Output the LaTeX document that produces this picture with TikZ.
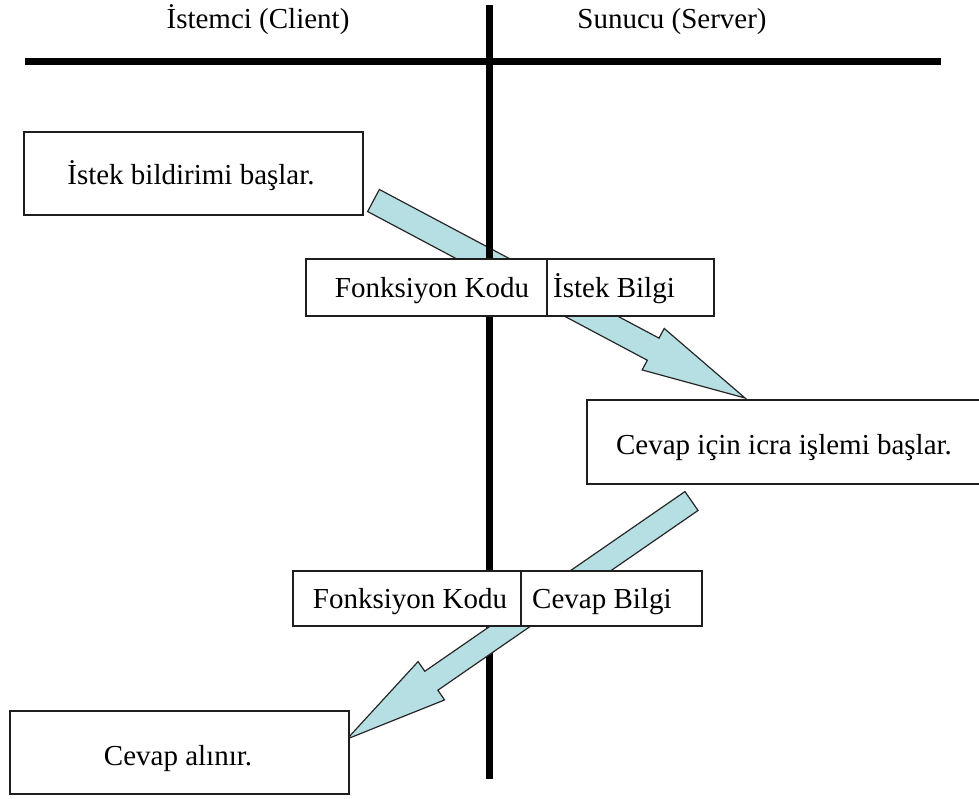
\documentclass[tikz,border=0pt]{standalone}
\usepackage{fontspec}
\setmainfont{Liberation Serif}
\usetikzlibrary{calc}

\definecolor{arrowfill}{HTML}{B6DFE3}
\definecolor{boxline}{HTML}{1E1E1E}

\tikzset{
  axisline/.style={line width=7pt, black},
  stepbox/.style={draw=boxline, line width=1.5pt, fill=white, rectangle, inner sep=0pt},
  lbl/.style={font=\fontsize{29}{34}\selectfont, inner sep=0pt, anchor=base},
  blockarrow/.style={fill=arrowfill, draw=black!85, line width=1.2pt, line join=miter},
}

% thick block arrow from #1 to #2: shaft half width #3, head half width #4, head length #5
\newcommand\blockarrowpath[5]{%
  \coordinate (#1-#2-h) at ($(#2)!#5!(#1)$);
  \filldraw[blockarrow]
    ($(#1)!#3!90:(#2)$) -- ($(#1-#2-h)!#3!-90:(#1)$) -- ($(#1-#2-h)!#4!-90:(#1)$)
    -- (#2) -- ($(#1-#2-h)!#4!90:(#1)$) -- ($(#1-#2-h)!#3!90:(#1)$)
    -- ($(#1)!#3!-90:(#2)$) -- cycle;}

\begin{document}
\begin{tikzpicture}[x=1pt, y=-1pt]
  \useasboundingbox (0,0) rectangle (979,798);
  \clip (0,0) rectangle (979,798);

  % column headings
  \node[lbl] (hclient) at (258,28) {İstemci (Client)};
  \node[lbl] (hserver) at (672,28) {Sunucu (Server)};

  % horizontal divider
  \coordinate (hl) at (25,61);
  \coordinate (hr) at (941,61);
  \draw[axisline] (hl) -- (hr);

  % request arrow (runs behind the vertical line)
  \coordinate (a1s) at (373.5,200.5);
  \coordinate (a1e) at (745,398);
  \blockarrowpath{a1s}{a1e}{12.5pt}{23.5pt}{104pt}

  % vertical divider
  \coordinate (vt) at (489,5);
  \coordinate (vb) at (489,779);
  \draw[axisline] (vt) -- (vb);

  % response arrow (runs over the vertical line)
  \coordinate (a2s) at (691.5,501);
  \coordinate (a2e) at (347,739);
  \blockarrowpath{a2s}{a2e}{11.5pt}{23.3pt}{102.5pt}

  % boxes
  \node[stepbox, minimum width=339pt, minimum height=83pt] (b1) at (193.5,173.5) {};
  \node[lbl] (t1) at (191,184) {İstek bildirimi başlar.};

  \node[stepbox, minimum width=241pt, minimum height=57pt] (b2l) at (426.5,287.5) {};
  \node[stepbox, minimum width=167pt, minimum height=57pt] (b2r) at (630.5,287.5) {};
  \node[lbl] (t2l) at (432,297) {Fonksiyon Kodu};
  \node[lbl, anchor=base west] (t2r) at (553,297) {İstek Bilgi};

  \node[stepbox, minimum width=413pt, minimum height=84pt] (b3) at (793.5,442) {};
  \node[lbl] (t3) at (784,454) {Cevap için icra işlemi başlar.};

  \node[stepbox, minimum width=228pt, minimum height=55pt] (b4l) at (407,598.5) {};
  \node[stepbox, minimum width=181pt, minimum height=55pt] (b4r) at (611.5,598.5) {};
  \node[lbl] (t4l) at (410,608) {Fonksiyon Kodu};
  \node[lbl, anchor=base west] (t4r) at (532,608) {Cevap Bilgi};

  \node[stepbox, minimum width=339pt, minimum height=83pt] (b5) at (179.5,752.5) {};
  \node[lbl] (t5) at (178,765) {Cevap alınır.};
\end{tikzpicture}
\end{document}
